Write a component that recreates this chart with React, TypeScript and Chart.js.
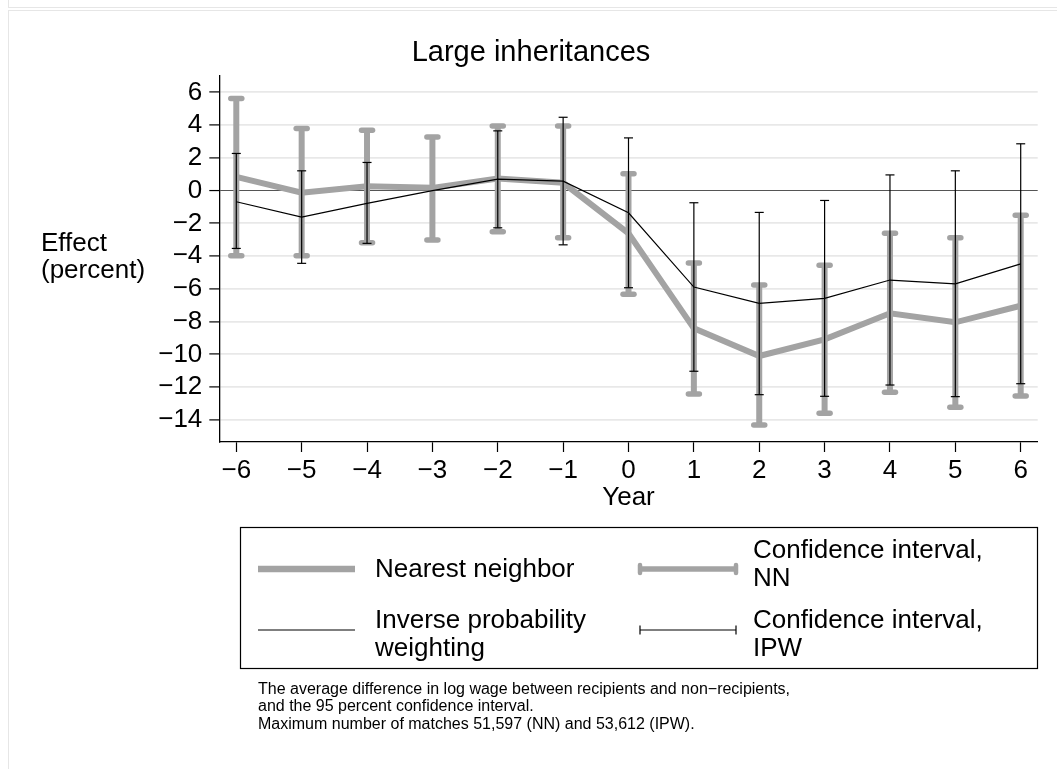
import React, { useEffect, useRef } from "react";
import { Chart, registerables } from "chart.js";

Chart.register(...registerables);

// ---------- data ----------
const years = [-6, -5, -4, -3, -2, -1, 0, 1, 2, 3, 4, 5, 6];
const nnEffect = [0.84, -0.13, 0.27, 0.17, 0.74, 0.48, -2.61, -8.41, -10.1, -9.08, -7.49, -8.04, -7.03];
const nnLower = [-3.98, -3.98, -3.18, -3.02, -2.51, -2.88, -6.33, -12.42, -14.31, -13.59, -12.31, -13.23, -12.54];
const nnUpper = [5.63, 3.8, 3.69, 3.28, 3.94, 3.94, 1.03, -4.42, -5.76, -4.56, -2.61, -2.88, -1.51];
const ipwEffect = [-0.68, -1.62, -0.78, 0, 0.7, 0.58, -1.35, -5.89, -6.88, -6.58, -5.46, -5.69, -4.47];
const ipwLower: (number | null)[] = [-3.53, -4.44, -3.22, null, -2.27, -3.31, -5.93, -11.03, -12.46, -12.56, -11.87, -12.58, -11.79];
const ipwUpper: (number | null)[] = [2.27, 1.21, 1.72, null, 3.65, 4.48, 3.22, -0.74, -1.33, -0.6, 0.96, 1.21, 2.86];
const yTickValues = [6, 4, 2, 0, -2, -4, -6, -8, -10, -12, -14];

const titleText = "Large inheritances";
const xAxisTitle = "Year";
const yAxisTitle = ["Effect", "(percent)"];
const legendNN = ["Nearest neighbor"];
const legendNNCI = ["Confidence interval,", "NN"];
const legendIPW = ["Inverse probability", "weighting"];
const legendIPWCI = ["Confidence interval,", "IPW"];
const noteLines = [
  "The average difference in log wage between recipients and non\u2212recipients,",
  "and the 95 percent confidence interval.",
  "Maximum number of matches 51,597 (NN) and 53,612 (IPW).",
];

// ---------- style ----------
const FONT = '"Liberation Sans", Arial, Helvetica, sans-serif';
const GRAY = "#a3a3a3";
const W = 1057;
const H = 769;

const fmt = (v: number) => (v < 0 ? "\u2212" + Math.abs(v) : String(v));

type CIStyle = { color: string; barWidth: number; capHalf: number; capWidth: number; capRound: boolean };

function drawCI(chart: any, lo: (number | null)[], hi: (number | null)[], st: CIStyle) {
  const ctx: CanvasRenderingContext2D = chart.ctx;
  const xs = chart.scales.x;
  const ys = chart.scales.y;
  ctx.save();
  ctx.strokeStyle = st.color;
  years.forEach((yr, i) => {
    const l = lo[i];
    const h = hi[i];
    if (l === null || h === null) return;
    const px = xs.getPixelForValue(yr);
    const pl = ys.getPixelForValue(l);
    const ph = ys.getPixelForValue(h);
    ctx.lineCap = "butt";
    ctx.lineWidth = st.barWidth;
    ctx.beginPath();
    ctx.moveTo(px, pl);
    ctx.lineTo(px, ph);
    ctx.stroke();
    ctx.lineCap = st.capRound ? "round" : "butt";
    ctx.lineWidth = st.capWidth;
    [pl, ph].forEach((py) => {
      ctx.beginPath();
      ctx.moveTo(px - st.capHalf, py);
      ctx.lineTo(px + st.capHalf, py);
      ctx.stroke();
    });
  });
  ctx.restore();
}

const nnStyle: CIStyle = { color: GRAY, barWidth: 6, capHalf: 5.5, capWidth: 5.5, capRound: true };
const ipwStyle: CIStyle = { color: "#000", barWidth: 1.2, capHalf: 4.5, capWidth: 1.2, capRound: false };

const errorBarPlugin = {
  id: "errorBars",
  beforeDatasetsDraw(chart: any) {
    drawCI(chart, nnLower, nnUpper, nnStyle);
  },
  afterDatasetDraw(chart: any, args: any) {
    if (args.index === 0) drawCI(chart, ipwLower, ipwUpper, ipwStyle);
  },
};

const textPlugin = {
  id: "extraText",
  afterDraw(chart: any) {
    const ctx: CanvasRenderingContext2D = chart.ctx;
    ctx.save();
    ctx.fillStyle = "#000";
    // y axis title (horizontal)
    ctx.font = `26px ${FONT}`;
    ctx.textAlign = "left";
    ctx.textBaseline = "alphabetic";
    ctx.fillText(yAxisTitle[0], 41, 250.7);
    ctx.fillText(yAxisTitle[1], 41, 277.7);

    // legend box
    const bl = 240, bt = 527, br = 1037, bb = 668;
    ctx.strokeStyle = "#000";
    ctx.lineWidth = 1.2;
    ctx.strokeRect(bl + 0.5, bt + 0.5, br - bl, bb - bt);

    // keys
    const k1 = 258, k2 = 355, k3 = 640, k4 = 736;
    const r1 = 569, r2 = 630;
    ctx.lineCap = "butt";
    ctx.strokeStyle = GRAY;
    ctx.lineWidth = 6.5;
    ctx.beginPath(); ctx.moveTo(k1, r1); ctx.lineTo(k2, r1); ctx.stroke();
    ctx.lineWidth = 5.5;
    ctx.beginPath(); ctx.moveTo(k3, r1); ctx.lineTo(k4, r1); ctx.stroke();
    ctx.lineCap = "round";
    ctx.lineWidth = 4.5;
    [k3, k4].forEach((x) => { ctx.beginPath(); ctx.moveTo(x, r1 - 4); ctx.lineTo(x, r1 + 4); ctx.stroke(); });
    ctx.lineCap = "butt";
    ctx.strokeStyle = "#000";
    ctx.lineWidth = 1.2;
    ctx.beginPath(); ctx.moveTo(k1, r2); ctx.lineTo(k2, r2); ctx.stroke();
    ctx.beginPath(); ctx.moveTo(k3, r2); ctx.lineTo(k4, r2); ctx.stroke();
    [k3, k4].forEach((x) => { ctx.beginPath(); ctx.moveTo(x, r2 - 4.5); ctx.lineTo(x, r2 + 4.5); ctx.stroke(); });

    ctx.font = `26px ${FONT}`;
    ctx.textBaseline = "middle";
    const t1 = 375, t2 = 753;
    ctx.fillText(legendNN[0], t1, 570);
    ctx.fillText(legendNNCI[0], t2, 551);
    ctx.fillText(legendNNCI[1], t2, 579);
    ctx.fillText(legendIPW[0], t1, 621);
    ctx.fillText(legendIPW[1], t1, 649);
    ctx.fillText(legendIPWCI[0], t2, 621);
    ctx.fillText(legendIPWCI[1], t2, 649);

    // notes
    ctx.font = `16px ${FONT}`;
    ctx.textBaseline = "middle";
    ctx.fillText(noteLines[0], 258, 690);
    ctx.fillText(noteLines[1], 258, 707);
    ctx.fillText(noteLines[2], 258, 725);
    ctx.restore();
  },
};

export default function App() {
  const ref = useRef<HTMLCanvasElement | null>(null);
  useEffect(() => {
    document.body.style.margin = "0";
    const canvas = ref.current;
    if (!canvas) return;
    const tickFont = { family: FONT, size: 26, weight: "normal" as const };
    const chart = new Chart(canvas, {
      type: "line",
      data: {
        datasets: [
          {
            label: "Nearest neighbor",
            data: years.map((x, i) => ({ x, y: nnEffect[i] })),
            borderColor: GRAY,
            backgroundColor: GRAY,
            borderWidth: 6,
            pointRadius: 0,
            tension: 0,
            order: 1,
          },
          {
            label: "Inverse probability weighting",
            data: years.map((x, i) => ({ x, y: ipwEffect[i] })),
            borderColor: "#000",
            backgroundColor: "#000",
            borderWidth: 1.2,
            pointRadius: 0,
            tension: 0,
            order: 0,
          },
        ],
      },
      options: {
        responsive: false,
        animation: false,
        events: [],
        layout: { padding: { left: 24.3, right: 19.3, top: 0, bottom: 0 } },
        plugins: {
          legend: { display: false },
          tooltip: { enabled: false },
          title: {
            display: true,
            text: titleText,
            color: "#000",
            font: { family: FONT, size: 29, weight: "normal" },
            padding: { top: 35.5, bottom: 5.7 },
          },
        },
        scales: {
          x: {
            type: "linear",
            min: -6.26,
            max: 6.26,
            afterBuildTicks: (s: any) => {
              s.ticks = years.map((v) => ({ value: v }));
            },
            afterFit: (s: any) => {
              s.height = 327;
            },
            ticks: {
              color: "#000",
              font: tickFont,
              padding: 3,
              autoSkip: false,
              maxRotation: 0,
              callback: (v: any) => fmt(Number(v)),
            },
            grid: { drawOnChartArea: false, tickLength: 10, tickColor: "#000", tickWidth: 1.2 },
            border: { color: "#000", width: 1.3 },
            title: {
              display: true,
              text: xAxisTitle,
              color: "#000",
              font: tickFont,
              padding: { top: 0, bottom: 256 },
            },
          },
          y: {
            type: "linear",
            min: -15.35,
            max: 7,
            afterBuildTicks: (s: any) => {
              s.ticks = yTickValues.map((v) => ({ value: v }));
            },
            afterFit: (s: any) => {
              s.width = 195;
            },
            ticks: {
              color: "#000",
              font: tickFont,
              padding: 7,
              autoSkip: false,
              callback: (v: any) => fmt(Number(v)),
            },
            grid: {
              color: (c: any) => (c.tick && c.tick.value === 0 ? "#555555" : "#e8e8e8"),
              lineWidth: (c: any) => (c.tick && c.tick.value === 0 ? 1.1 : 1.8),
              tickLength: 10,
              tickColor: "#000",
              tickWidth: 1.2,
            },
            border: { color: "#000", width: 1.3 },
          },
        },
      },
      plugins: [errorBarPlugin, textPlugin],
    } as any);
    return () => chart.destroy();
  }, []);

  return (
    <div style={{ position: "relative", width: W, height: H, background: "#fff", overflow: "hidden" }}>
      <div style={{ position: "absolute", left: 8, top: -2, width: W, height: 9, borderLeft: "1px solid #e6e6e6", borderBottom: "1px solid #e6e6e6" }} />
      <div style={{ position: "absolute", left: 8, top: 10, width: W, height: H, borderLeft: "1px solid #e6e6e6", borderTop: "1px solid #e6e6e6" }} />
      <canvas ref={ref} width={W} height={H} style={{ position: "absolute", left: 0, top: 0, width: W, height: H }} />
    </div>
  );
}
